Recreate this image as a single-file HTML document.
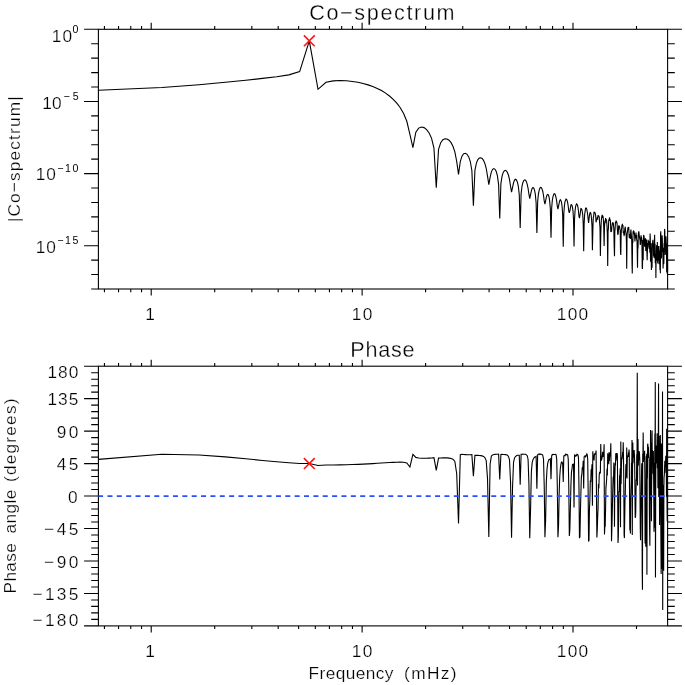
<!DOCTYPE html><html><head><meta charset="utf-8"><title>Co-spectrum and Phase</title>
<style>html,body{margin:0;padding:0;background:#fff}svg{display:block}text{font-family:"Liberation Sans",sans-serif;fill:#000}</style></head><body>
<svg width="685" height="685" viewBox="0 0 685 685">
<rect width="685" height="685" fill="#fff"/>
<rect x="98.40" y="29.30" width="569.20" height="259.70" fill="none" stroke="#000" stroke-width="1.10"/>
<rect x="98.40" y="366.20" width="569.20" height="259.70" fill="none" stroke="#000" stroke-width="1.10"/>
<path d="M104.43 289.00V292.20M118.54 289.00V292.20M130.77 289.00V292.20M141.56 289.00V292.20M151.21 289.00V295.50M214.70 289.00V292.20M251.84 289.00V292.20M278.18 289.00V292.20M298.62 289.00V292.20M315.32 289.00V292.20M329.44 289.00V292.20M341.67 289.00V292.20M352.46 289.00V292.20M362.11 289.00V295.50M425.59 289.00V292.20M462.73 289.00V292.20M489.08 289.00V292.20M509.52 289.00V292.20M526.22 289.00V292.20M540.33 289.00V292.20M552.57 289.00V292.20M563.35 289.00V292.20M573.00 289.00V295.50M636.49 289.00V292.20M104.43 29.30V26.10M118.54 29.30V26.10M130.77 29.30V26.10M141.56 29.30V26.10M151.21 29.30V22.80M214.70 29.30V26.10M251.84 29.30V26.10M278.18 29.30V26.10M298.62 29.30V26.10M315.32 29.30V26.10M329.44 29.30V26.10M341.67 29.30V26.10M352.46 29.30V26.10M362.11 29.30V22.80M425.59 29.30V26.10M462.73 29.30V26.10M489.08 29.30V26.10M509.52 29.30V26.10M526.22 29.30V26.10M540.33 29.30V26.10M552.57 29.30V26.10M563.35 29.30V26.10M573.00 29.30V22.80M636.49 29.30V26.10M104.43 625.90V629.10M118.54 625.90V629.10M130.77 625.90V629.10M141.56 625.90V629.10M151.21 625.90V632.40M214.70 625.90V629.10M251.84 625.90V629.10M278.18 625.90V629.10M298.62 625.90V629.10M315.32 625.90V629.10M329.44 625.90V629.10M341.67 625.90V629.10M352.46 625.90V629.10M362.11 625.90V632.40M425.59 625.90V629.10M462.73 625.90V629.10M489.08 625.90V629.10M509.52 625.90V629.10M526.22 625.90V629.10M540.33 625.90V629.10M552.57 625.90V629.10M563.35 625.90V629.10M573.00 625.90V632.40M636.49 625.90V629.10M104.43 366.20V363.00M118.54 366.20V363.00M130.77 366.20V363.00M141.56 366.20V363.00M151.21 366.20V359.70M214.70 366.20V363.00M251.84 366.20V363.00M278.18 366.20V363.00M298.62 366.20V363.00M315.32 366.20V363.00M329.44 366.20V363.00M341.67 366.20V363.00M352.46 366.20V363.00M362.11 366.20V359.70M425.59 366.20V363.00M462.73 366.20V363.00M489.08 366.20V363.00M509.52 366.20V363.00M526.22 366.20V363.00M540.33 366.20V363.00M552.57 366.20V363.00M563.35 366.20V363.00M573.00 366.20V359.70M636.49 366.20V363.00M98.40 29.30H84.10M667.60 29.30H681.90M98.40 43.73H91.20M667.60 43.73H674.80M98.40 58.16H91.20M667.60 58.16H674.80M98.40 72.58H91.20M667.60 72.58H674.80M98.40 87.01H91.20M667.60 87.01H674.80M98.40 101.44H84.10M667.60 101.44H681.90M98.40 115.87H91.20M667.60 115.87H674.80M98.40 130.29H91.20M667.60 130.29H674.80M98.40 144.72H91.20M667.60 144.72H674.80M98.40 159.15H91.20M667.60 159.15H674.80M98.40 173.58H84.10M667.60 173.58H681.90M98.40 188.01H91.20M667.60 188.01H674.80M98.40 202.43H91.20M667.60 202.43H674.80M98.40 216.86H91.20M667.60 216.86H674.80M98.40 231.29H91.20M667.60 231.29H674.80M98.40 245.72H84.10M667.60 245.72H681.90M98.40 260.14H91.20M667.60 260.14H674.80M98.40 274.57H91.20M667.60 274.57H674.80M98.40 289.00H91.20M667.60 289.00H674.80M98.40 366.20H84.10M667.60 366.20H681.90M98.40 372.69H91.20M667.60 372.69H674.80M98.40 379.19H91.20M667.60 379.19H674.80M98.40 385.68H91.20M667.60 385.68H674.80M98.40 392.17H91.20M667.60 392.17H674.80M98.40 398.66H84.10M667.60 398.66H681.90M98.40 405.15H91.20M667.60 405.15H674.80M98.40 411.65H91.20M667.60 411.65H674.80M98.40 418.14H91.20M667.60 418.14H674.80M98.40 424.63H91.20M667.60 424.63H674.80M98.40 431.12H84.10M667.60 431.12H681.90M98.40 437.62H91.20M667.60 437.62H674.80M98.40 444.11H91.20M667.60 444.11H674.80M98.40 450.60H91.20M667.60 450.60H674.80M98.40 457.09H91.20M667.60 457.09H674.80M98.40 463.59H84.10M667.60 463.59H681.90M98.40 470.08H91.20M667.60 470.08H674.80M98.40 476.57H91.20M667.60 476.57H674.80M98.40 483.06H91.20M667.60 483.06H674.80M98.40 489.56H91.20M667.60 489.56H674.80M98.40 496.05H84.10M667.60 496.05H681.90M98.40 502.54H91.20M667.60 502.54H674.80M98.40 509.03H91.20M667.60 509.03H674.80M98.40 515.53H91.20M667.60 515.53H674.80M98.40 522.02H91.20M667.60 522.02H674.80M98.40 528.51H84.10M667.60 528.51H681.90M98.40 535.00H91.20M667.60 535.00H674.80M98.40 541.50H91.20M667.60 541.50H674.80M98.40 547.99H91.20M667.60 547.99H674.80M98.40 554.48H91.20M667.60 554.48H674.80M98.40 560.98H84.10M667.60 560.98H681.90M98.40 567.47H91.20M667.60 567.47H674.80M98.40 573.96H91.20M667.60 573.96H674.80M98.40 580.45H91.20M667.60 580.45H674.80M98.40 586.94H91.20M667.60 586.94H674.80M98.40 593.44H84.10M667.60 593.44H681.90M98.40 599.93H91.20M667.60 599.93H674.80M98.40 606.42H91.20M667.60 606.42H674.80M98.40 612.91H91.20M667.60 612.91H674.80M98.40 619.41H91.20M667.60 619.41H674.80M98.40 625.90H84.10M667.60 625.90H681.90" stroke="#000" stroke-width="1.10" fill="none"/>
<polyline points="98.40,90.25 161.89,87.54 199.02,84.73 225.37,82.28 245.81,80.21 262.51,78.42 276.63,76.76 288.86,74.89 299.65,71.55 309.30,40.83 318.02,89.31 325.99,82.25 333.33,80.84 340.11,80.56 346.43,80.82 352.34,81.43 357.90,82.32 363.13,83.46 368.08,84.86 372.78,86.50 377.25,88.41 381.51,90.60 385.58,93.10 389.48,95.97 393.22,99.28 396.81,103.14 400.27,107.75 403.60,113.49 406.81,121.25 409.92,134.37 412.92,147.57 415.83,132.20 418.65,128.08 421.38,126.99 424.04,127.60 426.62,129.57 429.13,132.98 431.57,138.39 433.95,148.00 436.27,187.84 438.53,149.35 440.74,142.66 442.89,139.78 445.00,138.74 447.05,138.96 449.07,140.25 451.04,142.62 452.97,146.29 454.85,151.91 456.70,161.48 458.52,174.37 460.30,161.53 462.04,155.96 463.75,153.67 465.43,153.25 467.08,154.30 468.71,156.87 470.30,161.52 471.86,170.46 473.40,205.76 474.92,170.32 476.41,163.08 477.87,159.62 479.31,158.04 480.73,157.74 482.13,158.51 483.51,160.34 484.87,163.43 486.20,168.27 487.52,176.07 488.82,184.57 490.10,177.31 491.37,171.88 492.61,169.29 493.84,168.57 495.05,169.30 496.25,171.57 497.43,175.91 498.60,184.64 499.75,218.46 500.89,183.85 502.01,176.40 503.12,172.69 504.22,170.90 505.31,170.35 506.38,170.88 507.44,172.45 508.48,175.27 509.52,179.61 510.54,186.27 511.55,192.17 512.55,187.32 513.54,182.76 514.52,180.14 515.49,179.31 516.45,179.95 517.40,182.14 518.34,186.30 519.27,194.84 520.19,228.05 521.10,193.86 522.00,186.25 522.90,182.45 523.78,180.53 524.66,179.84 525.53,180.24 526.39,181.62 527.24,184.27 528.08,188.38 528.92,194.22 529.75,198.76 530.57,194.59 531.38,190.89 532.19,188.41 532.99,187.57 533.78,188.15 534.57,190.33 535.35,194.40 536.12,202.91 536.89,232.93 537.65,201.81 538.40,194.13 539.15,190.37 539.89,188.12 540.63,187.46 541.36,187.75 542.08,189.09 542.80,191.50 543.51,195.47 544.22,200.88 544.92,204.07 545.62,200.86 546.31,197.34 547.00,195.04 547.68,194.36 548.35,194.85 549.02,196.91 549.69,200.98 550.35,209.22 551.01,237.79 551.66,208.21 552.31,200.51 552.95,196.77 553.59,194.65 554.22,193.69 554.85,193.97 555.48,195.31 556.10,197.75 556.71,201.33 557.33,206.31 557.94,209.07 558.54,206.23 559.14,203.17 559.74,200.61 560.33,199.73 560.92,200.46 561.50,202.43 562.09,206.45 562.66,214.13 563.24,246.83 563.81,213.97 564.38,206.09 564.94,201.89 565.50,200.28 566.06,199.05 566.61,199.48 567.16,200.57 567.71,202.91 568.25,206.52 568.79,211.14 569.33,212.85 569.86,210.91 570.39,208.10 570.92,204.84 571.45,204.63 571.97,205.19 572.49,207.36 573.00,211.06 573.52,219.78 574.03,246.47 574.53,219.42 575.04,210.94 575.54,206.98 576.04,204.82 576.54,203.88 577.03,204.25 577.52,205.30 578.01,207.61 578.50,211.20 578.98,216.31 579.46,218.21 579.94,215.46 580.41,212.00 580.89,208.62 581.36,208.80 581.83,209.49 582.29,211.59 582.76,215.02 583.22,223.77 583.68,251.19 584.13,224.30 584.59,214.97 585.04,211.81 585.49,208.74 585.94,207.94 586.38,208.09 586.83,209.66 587.27,211.97 587.71,214.96 588.15,219.25 588.58,222.82 589.01,219.14 589.44,215.27 589.87,213.01 590.30,212.51 590.73,213.05 591.15,215.04 591.57,219.41 591.99,225.66 592.41,250.23 592.82,231.43 593.23,218.02 593.65,216.19 594.06,211.74 594.46,212.49 594.87,212.55 595.27,213.53 595.68,215.88 596.08,222.31 596.48,219.81 596.87,219.81 597.27,217.93 597.66,218.46 598.06,215.52 598.45,215.67 598.84,216.12 599.22,216.83 599.61,222.93 599.99,227.46 600.38,256.03 600.76,236.17 601.14,223.28 601.51,218.34 601.89,216.01 602.26,214.87 602.64,216.89 603.01,216.55 603.38,219.51 603.75,227.75 604.11,245.95 604.48,227.15 604.84,220.84 605.21,223.18 605.57,218.15 605.93,220.03 606.29,219.32 606.64,221.03 607.00,225.95 607.35,233.74 607.71,266.06 608.06,231.40 608.41,228.58 608.76,219.56 609.10,220.98 609.45,217.48 609.80,218.99 610.14,219.61 610.48,221.67 610.82,232.05 611.16,230.85 611.50,231.69 611.84,227.28 612.18,224.72 612.51,222.56 612.84,223.32 613.18,222.55 613.51,225.27 613.84,228.97 614.17,246.58 614.49,256.29 614.82,231.53 615.15,228.17 615.47,221.82 615.79,223.23 616.12,220.61 616.44,221.54 616.76,222.11 617.07,223.56 617.39,229.01 617.71,234.05 618.02,234.75 618.34,231.83 618.65,225.85 618.96,225.91 619.27,226.04 619.58,226.56 619.89,229.41 620.20,229.93 620.51,251.43 620.81,255.00 621.12,235.48 621.42,229.39 621.72,227.42 622.03,224.90 622.33,224.48 622.63,225.30 622.93,224.90 623.22,233.03 623.52,231.43 623.82,234.36 624.11,235.38 624.41,234.93 624.70,229.43 624.99,228.10 625.28,226.72 625.57,230.70 625.86,232.24 626.15,234.84 626.44,241.64 626.72,268.79 627.01,237.21 627.29,232.87 627.58,231.01 627.86,228.04 628.14,227.58 628.43,228.17 628.71,227.01 628.99,232.78 629.26,238.04 629.54,237.05 629.82,235.42 630.10,233.95 630.37,238.93 630.65,232.79 630.92,229.62 631.19,233.69 631.47,235.69 631.74,241.07 632.01,261.82 632.28,273.43 632.55,239.32 632.81,243.00 633.08,231.61 633.35,231.30 633.61,230.95 633.88,231.29 634.14,234.22 634.41,232.46 634.67,236.62 634.93,241.44 635.19,237.05 635.45,234.95 635.71,238.17 635.97,232.56 636.23,236.37 636.49,234.96 636.75,240.78 637.00,240.08 637.26,252.34 637.51,267.85 637.77,246.38 638.02,248.84 638.27,234.53 638.52,232.74 638.78,231.37 639.03,233.14 639.28,236.06 639.53,237.45 639.77,238.90 640.02,240.12 640.27,244.99 640.52,243.57 640.76,238.54 641.01,235.19 641.25,237.64 641.49,237.54 641.74,239.43 641.98,245.59 642.22,267.57 642.46,269.00 642.70,248.65 642.94,240.11 643.18,260.30 643.42,238.27 643.66,235.49 643.90,235.62 644.14,237.25 644.37,239.12 644.61,246.65 644.84,244.92 645.08,246.04 645.31,246.58 645.55,238.27 645.78,251.04 646.01,240.50 646.24,245.17 646.47,239.59 646.70,250.69 646.93,252.81 647.16,260.28 647.39,251.54 647.62,243.07 647.85,247.56 648.07,239.75 648.30,242.35 648.53,240.74 648.75,242.18 648.98,241.39 649.20,248.16 649.42,248.08 649.65,246.96 649.87,252.80 650.09,233.48 650.31,239.08 650.53,261.83 650.75,256.00 650.97,243.27 651.19,258.42 651.41,269.93 651.63,259.33 651.85,247.49 652.07,267.79 652.28,243.05 652.50,244.12 652.71,241.36 652.93,239.75 653.14,243.55 653.36,246.90 653.57,256.32 653.79,244.51 654.00,257.77 654.21,250.09 654.42,240.46 654.63,234.77 654.84,258.14 655.06,243.76 655.27,263.24 655.47,256.72 655.68,253.82 655.89,277.88 656.10,258.03 656.31,253.92 656.51,245.31 656.72,248.11 656.93,245.44 657.13,260.85 657.34,241.96 657.54,254.63 657.75,263.51 657.95,246.13 658.15,259.78 658.36,259.76 658.56,246.14 658.76,252.67 658.96,250.34 659.16,264.15 659.36,256.17 659.56,256.18 659.76,259.37 659.96,269.98 660.16,245.91 660.36,273.16 660.56,234.49 660.76,231.36 660.95,239.97 661.15,249.35 661.35,258.45 661.54,257.57 661.74,242.97 661.93,240.11 662.13,235.31 662.32,239.37 662.52,250.26 662.71,252.00 662.90,247.67 663.09,268.38 663.29,258.12 663.48,254.29 663.67,264.04 663.86,263.13 664.05,243.18 664.24,248.94 664.43,238.44 664.62,228.91 664.81,231.40 665.00,245.58 665.19,254.98 665.38,252.50 665.56,240.64 665.75,243.38 665.94,236.18 666.12,238.73 666.31,244.67 666.49,247.18 666.68,272.00 666.86,243.73 667.05,273.53 667.23,250.55 667.42,249.99 667.60,270.38" fill="none" stroke="#000" stroke-width="1.10" stroke-linejoin="miter" stroke-miterlimit="3"/>
<polyline points="98.40,459.41 161.89,454.30 199.02,455.01 225.37,456.88 245.81,458.80 262.51,460.46 276.63,461.78 288.86,462.77 299.65,463.43 309.30,463.57 318.02,465.52 325.99,464.99 333.33,464.94 340.11,464.87 346.43,464.74 352.34,464.57 357.90,464.36 363.13,464.12 368.08,463.86 372.78,463.60 377.25,463.32 381.51,463.06 385.58,462.80 389.48,462.55 393.22,462.34 396.81,462.18 400.27,462.11 403.60,462.22 406.81,462.88 409.92,466.99 412.92,454.26 415.83,457.39 418.65,458.07 421.38,458.25 424.04,458.26 426.62,458.19 429.13,458.08 431.57,457.95 433.95,457.68 436.27,470.32 438.53,458.12 440.74,457.95 442.89,457.86 445.00,457.86 447.05,457.92 449.07,458.09 451.04,458.45 452.97,459.25 454.85,461.46 456.70,473.68 458.52,523.40 460.30,454.66 462.04,454.26 463.75,454.46 465.43,454.61 467.08,454.73 468.71,454.78 470.30,454.81 471.86,454.67 473.40,476.19 474.92,455.37 476.41,455.31 477.87,455.34 479.31,455.44 480.73,455.59 482.13,455.88 483.51,456.38 484.87,457.50 486.20,460.52 487.52,478.59 488.82,537.10 490.10,464.23 491.37,456.10 492.61,454.92 493.84,454.46 495.05,454.34 496.25,454.29 497.43,454.32 498.60,454.20 499.75,479.36 500.89,454.42 502.01,454.32 503.12,454.44 504.22,454.44 505.31,454.58 506.38,454.80 507.44,455.32 508.48,456.42 509.52,459.88 510.54,481.75 511.55,537.86 512.55,487.08 513.54,462.26 514.52,457.94 515.49,456.51 516.45,455.78 517.40,455.23 518.34,455.22 519.27,455.22 520.19,484.66 521.10,454.26 522.00,454.25 522.90,454.16 523.78,454.18 524.66,454.27 525.53,454.30 526.39,454.86 527.24,455.74 528.08,459.49 528.92,483.80 529.75,538.27 530.57,508.66 531.38,471.71 532.19,462.58 532.99,459.66 533.78,458.28 534.57,457.10 535.35,456.95 536.12,456.34 536.89,488.75 537.65,454.72 538.40,454.23 539.15,453.94 539.89,454.52 540.63,454.17 541.36,454.18 542.08,454.53 542.80,455.39 543.51,459.09 544.22,485.57 544.92,537.12 545.62,520.17 546.31,482.51 547.00,469.13 547.68,463.40 548.35,461.11 549.02,459.47 549.69,459.29 550.35,458.79 551.01,479.13 551.66,455.93 552.31,454.46 552.95,454.67 553.59,454.41 554.22,454.48 554.85,454.46 555.48,454.28 556.10,454.84 556.71,459.10 557.33,487.07 557.94,537.26 558.54,525.84 559.14,494.43 559.74,476.79 560.33,468.55 560.92,464.35 561.50,462.02 562.09,461.97 562.66,464.04 563.24,481.90 563.81,455.82 564.38,455.54 564.94,455.81 565.50,454.37 566.06,454.98 566.61,454.42 567.16,454.46 567.71,455.05 568.25,458.98 568.79,487.29 569.33,536.00 569.86,529.40 570.39,507.48 570.92,485.19 571.45,472.35 571.97,469.12 572.49,464.52 573.00,464.76 573.52,463.75 574.03,507.51 574.53,454.40 575.04,456.37 575.54,456.00 576.04,455.33 576.54,455.61 577.03,454.26 577.52,454.40 578.01,455.04 578.50,458.15 578.98,488.29 579.46,538.12 579.94,536.95 580.41,512.74 580.89,493.07 581.36,476.78 581.83,474.46 582.29,467.32 582.76,469.54 583.22,460.81 583.68,488.38 584.13,456.82 584.59,456.40 585.04,455.77 585.49,456.88 585.94,456.32 586.38,455.20 586.83,453.96 587.27,454.61 587.71,459.50 588.15,491.73 588.58,541.59 589.01,540.03 589.44,508.91 589.87,500.25 590.30,480.52 590.73,481.91 591.15,469.30 591.57,472.79 591.99,464.38 592.41,505.84 592.82,451.16 593.23,459.65 593.65,455.36 594.06,460.36 594.46,453.45 594.87,454.24 595.27,454.26 595.68,453.52 596.08,450.62 596.48,494.88 596.87,537.41 597.27,529.72 597.66,517.22 598.06,507.90 598.45,483.93 598.84,488.40 599.22,475.24 599.61,471.93 599.99,473.60 600.38,472.53 600.76,444.02 601.14,459.53 601.51,460.04 601.89,458.72 602.26,456.45 602.64,451.91 603.01,456.97 603.38,452.88 603.75,453.46 604.11,444.19 604.48,534.48 604.84,525.61 605.21,525.86 605.57,508.86 605.93,487.89 606.29,484.02 606.64,478.89 607.00,468.82 607.35,475.50 607.71,453.24 608.06,463.04 608.41,454.34 608.76,464.25 609.10,452.05 609.45,460.86 609.80,452.96 610.14,456.37 610.48,454.15 610.82,443.22 611.16,474.37 611.50,541.19 611.84,530.59 612.18,517.33 612.51,501.01 612.84,487.33 613.18,476.78 613.51,480.88 613.84,462.56 614.17,477.25 614.49,526.67 614.82,481.03 615.15,464.22 615.47,464.46 615.79,453.24 616.12,460.50 616.44,453.05 616.76,457.64 617.07,453.16 617.39,455.60 617.71,499.04 618.02,543.06 618.34,536.08 618.65,515.06 618.96,491.49 619.27,491.47 619.58,475.23 619.89,477.89 620.20,468.20 620.51,527.24 620.81,441.52 621.12,484.02 621.42,466.76 621.72,457.31 622.03,459.45 622.33,456.43 622.63,452.16 622.93,455.50 623.22,442.38 623.52,459.14 623.82,483.22 624.11,534.73 624.41,538.11 624.70,520.04 624.99,500.66 625.28,493.85 625.57,478.07 625.86,464.24 626.15,477.23 626.44,474.98 626.72,447.60 627.01,478.49 627.29,457.77 627.58,456.84 627.86,456.09 628.14,456.92 628.43,452.50 628.71,456.31 628.99,449.45 629.26,452.97 629.54,493.14 629.82,530.22 630.10,521.04 630.37,533.57 630.65,501.09 630.92,491.35 631.19,483.25 631.47,462.77 631.74,467.09 632.01,440.02 632.28,535.00 632.55,468.69 632.81,442.58 633.08,463.26 633.35,452.42 633.61,457.72 633.88,451.26 634.14,450.06 634.41,454.42 634.67,462.77 634.93,488.21 635.19,517.24 635.45,517.66 635.71,513.42 635.97,493.53 636.23,479.26 636.49,481.22 636.75,454.20 637.00,480.26 637.26,372.69 637.51,485.38 637.77,447.77 638.02,438.99 638.27,465.65 638.52,459.99 638.78,459.41 639.03,452.97 639.28,451.17 639.53,454.46 639.77,459.83 640.02,496.12 640.27,527.71 640.52,540.24 640.76,518.55 641.01,502.33 641.25,494.80 641.49,475.83 641.74,463.33 641.98,479.19 642.22,571.80 642.46,589.83 642.70,454.06 642.94,456.61 643.18,432.55 643.42,461.89 643.66,452.77 643.90,459.95 644.14,454.46 644.37,455.88 644.61,450.79 644.84,472.52 645.08,543.61 645.31,528.06 645.55,501.68 645.78,546.65 646.01,489.26 646.24,456.36 646.47,477.52 646.70,453.78 646.93,574.68 647.16,478.88 647.39,478.20 647.62,444.70 647.85,443.69 648.07,458.03 648.30,446.48 648.53,449.87 648.75,454.83 648.98,457.28 649.20,458.43 649.42,514.12 649.65,532.31 649.87,545.65 650.09,506.78 650.31,494.18 650.53,429.91 650.75,435.88 650.97,469.90 651.19,443.12 651.41,521.30 651.63,484.76 651.85,472.35 652.07,430.43 652.28,473.82 652.50,450.07 652.71,464.74 652.93,452.97 653.14,455.59 653.36,450.93 653.57,473.51 653.79,494.36 654.00,531.77 654.21,462.82 654.42,527.67 654.63,493.39 654.84,433.80 655.06,472.08 655.27,382.07 655.47,577.57 655.68,497.90 655.89,449.16 656.10,445.55 656.31,463.41 656.51,461.06 656.72,457.53 656.93,451.67 657.13,433.36 657.34,468.19 657.54,441.42 657.75,458.21 657.95,488.20 658.15,453.18 658.36,434.56 658.56,383.51 658.76,497.12 658.96,460.16 659.16,435.88 659.36,458.57 659.56,524.91 659.76,467.45 659.96,468.53 660.16,510.10 660.36,434.98 660.56,498.38 660.76,518.33 660.95,548.76 661.15,573.90 661.35,443.58 661.54,568.99 661.74,528.97 661.93,529.75 662.13,516.19 662.32,537.88 662.52,391.45 662.71,610.03 662.90,485.11 663.09,525.30 663.29,545.36 663.48,485.37 663.67,570.79 663.86,489.30 664.05,477.31 664.24,475.99 664.43,473.44 664.62,466.40 664.81,460.78 665.00,472.81 665.19,464.47 665.38,467.19 665.56,463.26 665.75,455.68 665.94,463.33 666.12,463.39 666.31,466.72 666.49,496.80 666.68,428.77 666.86,471.51 667.05,506.87 667.23,521.18 667.42,491.06 667.60,496.05" fill="none" stroke="#000" stroke-width="1.10" stroke-linejoin="miter" stroke-miterlimit="3"/>
<path d="M98.40 496.05H667.60" stroke="#2850ff" stroke-width="1.8" stroke-dasharray="5 4.36" stroke-dashoffset="0.3" fill="none"/>
<path d="M303.90 35.40L314.70 46.20M303.90 46.20L314.70 35.40" stroke="#ff1414" stroke-width="1.6" fill="none"/>
<path d="M303.90 458.19L314.70 468.99M303.90 468.99L314.70 458.19" stroke="#ff1414" stroke-width="1.6" fill="none"/>
<g stroke="#fff" style="opacity:0.999">
<text x="309.20" y="19.80" font-size="21.6" stroke-width="0.30" textLength="145.40" lengthAdjust="spacing">Co−spectrum</text>
<text x="350.30" y="356.50" font-size="21.6" stroke-width="0.30" textLength="64.20" lengthAdjust="spacing">Phase</text>
<text x="308.50" y="678.80" font-size="17.3" stroke-width="0.24" textLength="85.00" lengthAdjust="spacing">Frequency</text>
<text x="404.00" y="678.80" font-size="17.3" stroke-width="0.24" textLength="52.50" lengthAdjust="spacing">(mHz)</text>
<text transform="translate(19.60,222.10) rotate(-90)" font-size="17.3" stroke-width="0.24" textLength="125.80" lengthAdjust="spacing">|Co−spectrum|</text>
<text transform="translate(16.30,593.50) rotate(-90)" font-size="17.3" stroke-width="0.24" textLength="50.50" lengthAdjust="spacing">Phase</text>
<text transform="translate(16.30,533.50) rotate(-90)" font-size="17.3" stroke-width="0.24" textLength="44.00" lengthAdjust="spacing">angle</text>
<text transform="translate(16.30,482.00) rotate(-90)" font-size="17.3" stroke-width="0.24" textLength="83.50" lengthAdjust="spacing">(degrees)</text>
<text x="145.20" y="320.30" font-size="17.3" stroke-width="0.24" textLength="5.20" lengthAdjust="spacing">1</text>
<text x="351.80" y="320.30" font-size="17.3" stroke-width="0.24" textLength="20.60" lengthAdjust="spacing">10</text>
<text x="556.80" y="320.30" font-size="17.3" stroke-width="0.24" textLength="31.30" lengthAdjust="spacing">100</text>
<text x="145.20" y="657.20" font-size="17.3" stroke-width="0.24" textLength="5.20" lengthAdjust="spacing">1</text>
<text x="351.80" y="657.20" font-size="17.3" stroke-width="0.24" textLength="20.60" lengthAdjust="spacing">10</text>
<text x="556.80" y="657.20" font-size="17.3" stroke-width="0.24" textLength="31.30" lengthAdjust="spacing">100</text>
<text x="51.70" y="41.50" font-size="17.3" stroke-width="0.24" textLength="20.30" lengthAdjust="spacing">10</text>
<text x="72.50" y="33.30" font-size="10.6" stroke-width="0.00" textLength="5.80" lengthAdjust="spacing">0</text>
<text x="42.20" y="108.50" font-size="17.3" stroke-width="0.24" textLength="19.30" lengthAdjust="spacing">10</text>
<text x="63.50" y="100.30" font-size="10.6" stroke-width="0.00" textLength="15.20" lengthAdjust="spacing">−5</text>
<text x="35.70" y="180.40" font-size="17.3" stroke-width="0.24" textLength="20.10" lengthAdjust="spacing">10</text>
<text x="57.20" y="172.20" font-size="10.6" stroke-width="0.00" textLength="21.30" lengthAdjust="spacing">−10</text>
<text x="35.80" y="252.60" font-size="17.3" stroke-width="0.24" textLength="20.10" lengthAdjust="spacing">10</text>
<text x="57.20" y="244.40" font-size="10.6" stroke-width="0.00" textLength="21.20" lengthAdjust="spacing">−15</text>
<text x="47.40" y="378.00" font-size="17.3" stroke-width="0.24" textLength="31.00" lengthAdjust="spacing">180</text>
<text x="47.40" y="405.26" font-size="17.3" stroke-width="0.24" textLength="31.00" lengthAdjust="spacing">135</text>
<text x="56.70" y="437.73" font-size="17.3" stroke-width="0.24" textLength="21.70" lengthAdjust="spacing">90</text>
<text x="56.70" y="470.19" font-size="17.3" stroke-width="0.24" textLength="21.70" lengthAdjust="spacing">45</text>
<text x="67.90" y="502.65" font-size="17.3" stroke-width="0.24" textLength="9.90" lengthAdjust="spacing">0</text>
<text x="44.10" y="535.11" font-size="17.3" stroke-width="0.24" textLength="34.30" lengthAdjust="spacing">−45</text>
<text x="44.10" y="567.58" font-size="17.3" stroke-width="0.24" textLength="34.30" lengthAdjust="spacing">−90</text>
<text x="32.50" y="600.04" font-size="17.3" stroke-width="0.24" textLength="45.90" lengthAdjust="spacing">−135</text>
<text x="32.50" y="625.70" font-size="17.3" stroke-width="0.24" textLength="45.90" lengthAdjust="spacing">−180</text>
</g></svg></body></html>
